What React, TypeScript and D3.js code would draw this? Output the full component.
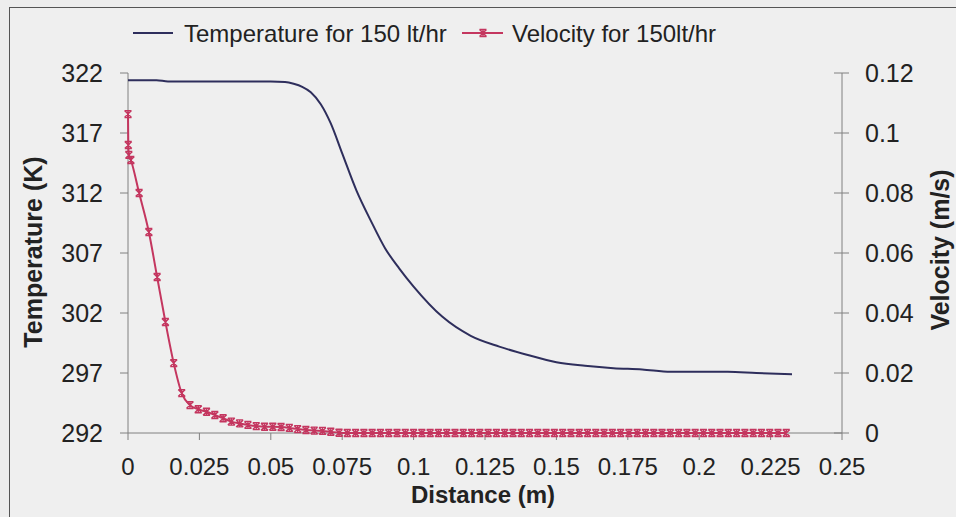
import React from "react";
import * as d3 from "d3";

const tempX = [0, 0.01, 0.014, 0.02, 0.03, 0.04, 0.05, 0.055, 0.058, 0.061, 0.064, 0.0675, 0.071, 0.075, 0.08, 0.085, 0.09, 0.095, 0.1, 0.11, 0.12, 0.13, 0.14, 0.15, 0.16, 0.17, 0.18, 0.19, 0.2, 0.21, 0.22, 0.2325];
const tempY = [321.4, 321.4, 321.3, 321.3, 321.3, 321.3, 321.3, 321.25, 321.1, 320.85, 320.4, 319.4, 317.8, 315.3, 312.2, 309.7, 307.4, 305.7, 304.2, 301.7, 300.1, 299.2, 298.5, 297.9, 297.6, 297.4, 297.3, 297.1, 297.1, 297.1, 297.0, 296.9];

const velX = [0, 0.0001, 0.0003, 0.001, 0.0039, 0.0073, 0.0102, 0.0131, 0.016, 0.0188,
  0.0217, 0.0246, 0.0275, 0.0304, 0.0333, 0.0362, 0.0391, 0.042, 0.0449, 0.0478, 0.0507, 0.0536, 0.0565, 0.0594, 0.0623, 0.0652, 0.0681, 0.071, 0.0739, 0.0768,
  0.0797, 0.0826, 0.0855, 0.0884, 0.0913, 0.0942, 0.0971, 0.1, 0.1029, 0.1058, 0.1087, 0.1116, 0.1145, 0.1174, 0.1203, 0.1232, 0.1261, 0.129, 0.1319, 0.1348,
  0.1377, 0.1406, 0.1435, 0.1464, 0.1493, 0.1522, 0.1551, 0.158, 0.1609, 0.1638, 0.1667, 0.1696, 0.1725, 0.1754, 0.1783, 0.1812, 0.1841, 0.187, 0.1899, 0.1928,
  0.1957, 0.1986, 0.2015, 0.2044, 0.2073, 0.2102, 0.2131, 0.216, 0.2189, 0.2218, 0.2247, 0.2276, 0.2305];
const velY = [0.1063, 0.096, 0.0927, 0.091, 0.08, 0.067, 0.052, 0.037, 0.0233, 0.0133,
  0.0093, 0.0079, 0.0071, 0.006, 0.0049, 0.0038, 0.0032, 0.0027, 0.0023, 0.0021, 0.0021, 0.002, 0.0017, 0.0013, 0.001, 0.0008, 0.0007, 0.0004, 0.0001, 0,
  0, 0, 0, 0, 0, 0, 0, 0, 0, 0, 0, 0, 0, 0, 0, 0, 0, 0, 0, 0,
  0, 0, 0, 0, 0, 0, 0, 0, 0, 0, 0, 0, 0, 0, 0, 0, 0, 0, 0, 0,
  0, 0, 0, 0, 0, 0, 0, 0, 0, 0, 0, 0, 0];

const xTicks = [0, 0.025, 0.05, 0.075, 0.1, 0.125, 0.15, 0.175, 0.2, 0.225, 0.25];
const tempTicks = [292, 297, 302, 307, 312, 317, 322];
const velTicks = [0, 0.02, 0.04, 0.06, 0.08, 0.1, 0.12];

const seriesNames = ["Temperature for 150 lt/hr", "Velocity for 150lt/hr"];

const W = 956, H = 517;
const L = 128, R = 842, T = 73, B = 433;
const TEMP_COLOR = "#2e2e5c";
const VEL_COLOR = "#c4365f";
const AXIS = "#808080";
const FONT = "'Liberation Sans', Arial, sans-serif";

function Star({ x, y }: { x: number; y: number }) {
  const s = 3.5;
  return (
    <path
      d={`M${x - s},${y - s}L${x + s},${y + s}M${x - s},${y + s}L${x + s},${y - s}M${x},${y - s - 0.5}L${x},${y + s + 0.5}M${x - s},${y - s}L${x + s},${y - s}M${x - s},${y + s}L${x + s},${y + s}`}
      stroke={VEL_COLOR}
      strokeWidth={1.4}
      fill="none"
    />
  );
}

export default function App() {
  const x = d3.scaleLinear().domain([0, 0.25]).range([L, R]);
  const yT = d3.scaleLinear().domain([292, 322]).range([B, T]);
  const yV = d3.scaleLinear().domain([0, 0.12]).range([B, T]);

  const tempData = tempX.map((v, i) => [v, tempY[i]] as [number, number]);
  const velData = velX.map((v, i) => [v, velY[i]] as [number, number]);

  const tempLine = d3.line<[number, number]>().x(d => x(d[0])).y(d => yT(d[1])).curve(d3.curveMonotoneX);
  const velLine = d3.line<[number, number]>().x(d => x(d[0])).y(d => yV(d[1])).curve(d3.curveMonotoneX);

  return (
    <svg width={W} height={H} style={{ position: "absolute", left: 0, top: 0 }} fontFamily={FONT}>
      <rect x={0} y={0} width={W} height={H} fill="#ededed" />
      <rect x={9.5} y={7.5} width={W + 10} height={H + 10} fill="#efefef" stroke="#555" strokeWidth={1} />

      {/* axes */}
      <line x1={L} x2={L} y1={T} y2={B} stroke={AXIS} />
      <line x1={R} x2={R} y1={T} y2={B} stroke={AXIS} />
      <line x1={L} x2={R} y1={B} y2={B} stroke={AXIS} />

      {tempTicks.map(t => (
        <g key={"lt" + t}>
          <line x1={L - 8} x2={L} y1={yT(t)} y2={yT(t)} stroke={AXIS} />
          <text x={103} y={yT(t) + 9} fontSize={25} textAnchor="end" fill="#222">{t}</text>
        </g>
      ))}
      {velTicks.map(t => (
        <g key={"rt" + t}>
          <line x1={R - 8} x2={R + 7} y1={yV(t)} y2={yV(t)} stroke={AXIS} />
          <text x={865} y={yV(t) + 9} fontSize={25} textAnchor="start" fill="#222">{String(t)}</text>
        </g>
      ))}
      {xTicks.map(t => (
        <g key={"xt" + t}>
          <line x1={x(t)} x2={x(t)} y1={B} y2={B + 7} stroke={AXIS} />
          <text x={x(t)} y={475} fontSize={24} textAnchor="middle" fill="#222">{String(t)}</text>
        </g>
      ))}

      <text x={483} y={503} fontSize={24} fontWeight="bold" textAnchor="middle" fill="#222">Distance (m)</text>
      <text transform="translate(42,252) rotate(-90)" fontSize={25} fontWeight="bold" textAnchor="middle" fill="#222">Temperature (K)</text>
      <text transform="translate(949,250) rotate(-90)" fontSize={25} fontWeight="bold" textAnchor="middle" fill="#222">Velocity (m/s)</text>

      {/* series */}
      <path d={tempLine(tempData) || ""} fill="none" stroke={TEMP_COLOR} strokeWidth={2} />
      <path d={velLine(velData) || ""} fill="none" stroke={VEL_COLOR} strokeWidth={2} />
      {velData.map((d, i) => (
        <Star key={i} x={x(d[0])} y={yV(d[1])} />
      ))}

      {/* legend */}
      <line x1={133} x2={173} y1={33} y2={33} stroke={TEMP_COLOR} strokeWidth={2} />
      <text x={184} y={42} fontSize={24} fill="#222">{seriesNames[0]}</text>
      <line x1={462} x2={503} y1={33} y2={33} stroke={VEL_COLOR} strokeWidth={2} />
      <Star x={483} y={33} />
      <text x={512} y={42} fontSize={24} fill="#222">{seriesNames[1]}</text>
    </svg>
  );
}
